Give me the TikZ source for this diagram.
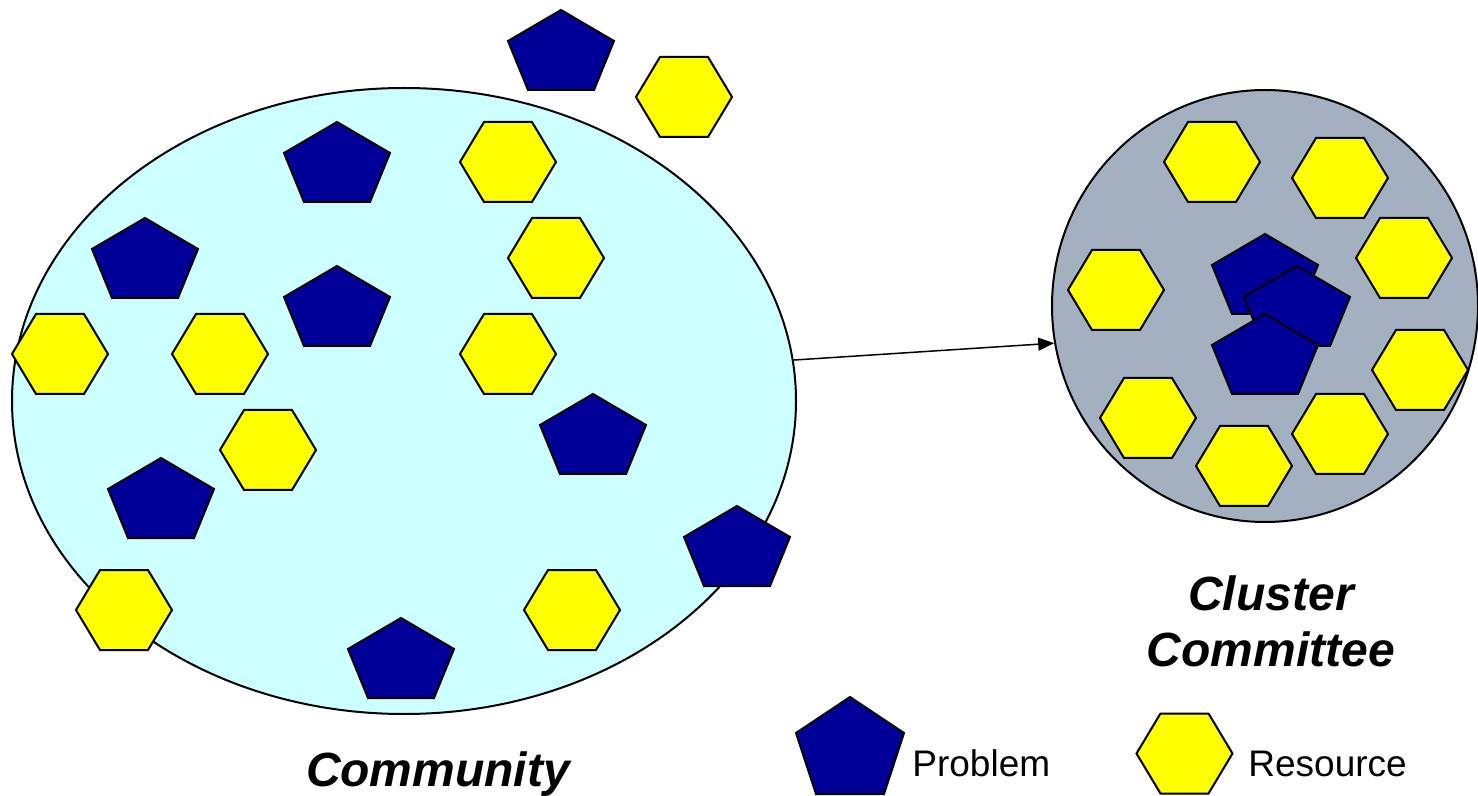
\documentclass[tikz,border=0pt]{standalone}
\usepackage{fontspec}
\setmainfont{Liberation Sans}
\usetikzlibrary{shapes.geometric,arrows.meta}
\definecolor{commfill}{RGB}{204,255,255}
\definecolor{clusfill}{RGB}{162,176,192}
\definecolor{probfill}{RGB}{0,0,153}
\definecolor{resfill}{RGB}{255,255,0}
\tikzset{
  outline/.style={draw=black, line width=1pt},
  probshape/.style={outline, fill=probfill},
  resshape/.style={outline, fill=resfill},
  pent/.pic={\path[probshape] (-53,31) -- (0,0) -- (53,31) -- (33,80) -- (-33,80) -- cycle;},
  legpent/.pic={\path[probshape] (-54,36) -- (0,0) -- (54,36) -- (34,97) -- (-34,97) -- cycle;},
  hexa/.pic={\path[resshape] (-48,0) -- (-24,-40) -- (24,-40) -- (48,0) -- (24,40) -- (-24,40) -- cycle;},
  biglabel/.style={font=\bfseries\itshape\fontsize{24}{28}\selectfont, inner sep=0pt, align=center},
  leglabel/.style={font=\fontsize{18.5}{22}\selectfont, inner sep=0pt},
  conn/.style={draw=black, line width=0.75pt, -{Triangle[length=8pt,width=6.5pt]}}
}
\begin{document}
\begin{tikzpicture}[x=0.5pt,y=-0.5pt]
\useasboundingbox (0,0) rectangle (1478,796);
% community ellipse
\node[ellipse, outline, fill=commfill, minimum width=392pt, minimum height=313pt, inner sep=0pt] (comm) at (404,401) {};
% cluster circle
\node[ellipse, outline, fill=clusfill, minimum width=213pt, minimum height=216pt, inner sep=0pt] (clus) at (1265,306) {};
% community problems
\pic (p1) at (561,10) {pent};
\pic (p2) at (337,122) {pent};
\pic (p3) at (145,218) {pent};
\pic (p4) at (337,266) {pent};
\pic (p5) at (593,394) {pent};
\pic (p6) at (161,458) {pent};
\pic (p7) at (737,506) {pent};
\pic (p8) at (401,618) {pent};
% community resources
\pic (r1) at (684,97) {hexa};
\pic (r2) at (508,162) {hexa};
\pic (r3) at (556,258) {hexa};
\pic (r4) at (60,354) {hexa};
\pic (r5) at (220,354) {hexa};
\pic (r6) at (508,354) {hexa};
\pic (r7) at (268,450) {hexa};
\pic (r8) at (124,610) {hexa};
\pic (r9) at (572,610) {hexa};
% cluster resources
\pic (c1) at (1212,162) {hexa};
\pic (c2) at (1340,178) {hexa};
\pic (c3) at (1116,290) {hexa};
\pic (c4) at (1404,258) {hexa};
\pic (c5) at (1420,370) {hexa};
\pic (c6) at (1148,418) {hexa};
\pic (c7) at (1340,434) {hexa};
\pic (c8) at (1244,466) {hexa};
% cluster problems
\pic (ca) at (1265,234) {pent};
\pic (cb) at (1297,266) {pent};
\pic (cc) at (1265,314) {pent};
% arrow
\draw[conn] (comm.6.5) -- (clus.190.5);
% labels
\node[biglabel, anchor=base] (lcomm) at (438,786) {Community};
\node[biglabel, anchor=center] (lclus) at (1271,621) {Cluster\\Committee};
% legend
\pic (lp) at (850,697) {legpent};
\node[leglabel, anchor=base west] (lprob) at (912,776) {Problem};
\pic (lr) at (1184.5,753.5) {hexa};
\node[leglabel, anchor=base west] (lres) at (1248,776) {Resource};
\end{tikzpicture}
\end{document}
